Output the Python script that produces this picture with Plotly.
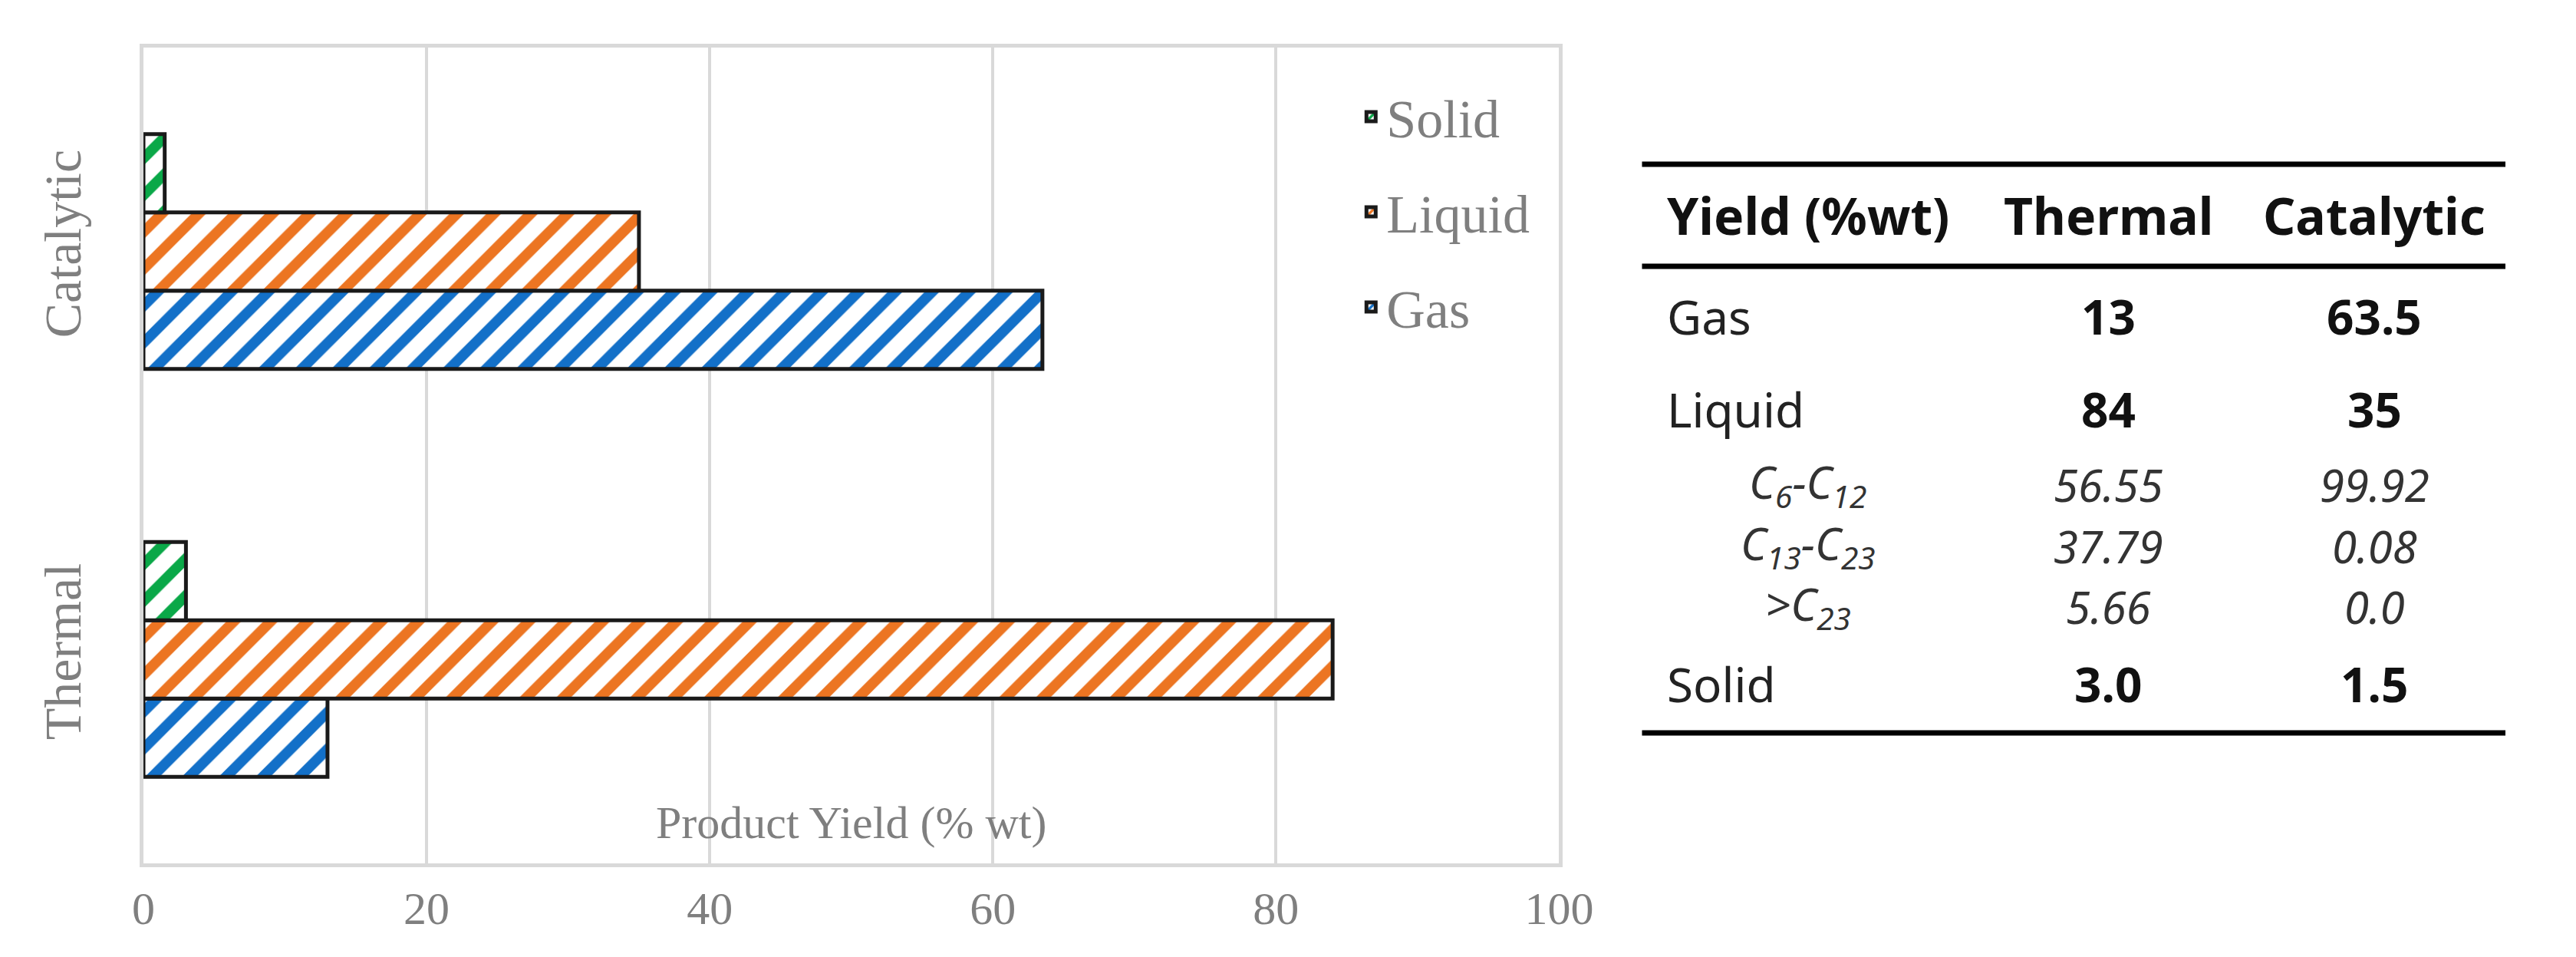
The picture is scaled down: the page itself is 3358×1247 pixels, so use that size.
import plotly.graph_objects as go

W, H = 3358, 1247

# bar chart data
methods = ["Thermal", "Catalytic"]
gas = [13, 63.5]
liquid = [84, 35]
solid = [3.0, 1.5]
x_ticks = [0, 20, 40, 60, 80, 100]

# table data
table_header = ["Yield (%wt)", "Thermal", "Catalytic"]
main_rows = ["Gas", "Liquid", "Solid"]
main_thermal = ["13", "84", "3.0"]
main_catalytic = ["63.5", "35", "1.5"]
sub_rows = ["C<sub>6</sub>-C<sub>12</sub>", "C<sub>13</sub>-C<sub>23</sub>", "&gt;C<sub>23</sub>"]
sub_thermal = ["56.55", "37.79", "5.66"]
sub_catalytic = ["99.92", "0.08", "0.0"]

colors = {"Gas": "#1370C8", "Liquid": "#EC7522", "Solid": "#0AA848"}
GRAY = "#7f7f7f"
SERIF = "Liberation Serif"
SANS = "Noto Sans"


def px(x):
    return x / W


def py(y):
    return 1 - y / H


fig = go.Figure()

# Gas first so it sits at the bottom of each group; legend shows Solid on top
for rank, (name, vals) in zip([3, 2, 1], [("Gas", gas), ("Liquid", liquid), ("Solid", solid)]):
    fig.add_trace(go.Bar(
        y=methods, x=vals, name=name, orientation="h",
        legendgroup=name, legendrank=rank,
        marker=dict(
            color="white",
            line=dict(color="#1a1a1a", width=5),
            pattern=dict(shape="/", fgcolor=colors[name], bgcolor="white",
                         fgopacity=1, fillmode="replace",
                         size=34, solidity=0.4),
        ),
    ))

annotations = []


def note(text, x, y, size, color, xanchor="center", weight="normal", family=SANS):
    annotations.append(dict(
        x=px(x), y=py(y), xref="paper", yref="paper",
        xanchor=xanchor, yanchor="middle", text=text, showarrow=False,
        font=dict(family=family, size=size, color=color, weight=weight),
    ))


# axis title sits inside the plot area
annotations.append(dict(
    x=50, xref="x", y=py(1064), yref="paper", yanchor="middle",
    text="Product Yield (% wt)", showarrow=False,
    font=dict(family=SERIF, size=60, color=GRAY),
))

# table
col_x = [2187, 2775, 3128]
note(table_header[0], col_x[0], 272, 66, "#111111", xanchor="left", weight="bold")
note(table_header[1], col_x[1], 272, 66, "#111111", weight="bold")
note(table_header[2], col_x[2], 272, 66, "#111111", weight="bold")

main_y = [404, 525, 883]
for lab, t, c, yy in zip(main_rows, main_thermal, main_catalytic, main_y):
    note(lab, col_x[0], yy, 62, "#222222", xanchor="left")
    note(t, col_x[1], yy, 62, "#111111", weight="bold")
    note(c, col_x[2], yy, 62, "#111111", weight="bold")

sub_y = [623, 703, 782]
for lab, t, c, yy in zip(sub_rows, sub_thermal, sub_catalytic, sub_y):
    note("<i>" + lab + "</i>", 2376, yy, 58, "#333333")
    note("<i>" + t + "</i>", col_x[1], yy, 58, "#333333")
    note("<i>" + c + "</i>", col_x[2], yy, 58, "#333333")

shapes = []
for yy in (206, 339, 947):
    shapes.append(dict(
        type="line", xref="paper", yref="paper",
        x0=px(2156), x1=px(3302), y0=py(yy), y1=py(yy),
        line=dict(color="black", width=7),
    ))

fig.update_layout(
    width=W, height=H,
    margin=dict(l=0, r=0, t=0, b=0),
    paper_bgcolor="white", plot_bgcolor="white",
    barmode="group", bargap=0.424, bargroupgap=0,
    showlegend=True,
    legend=dict(
        x=px(1776), y=py(92), xanchor="left", yanchor="top",
        traceorder="grouped", tracegroupgap=30,
        bgcolor="rgba(0,0,0,0)",
        font=dict(family=SERIF, size=70, color=GRAY),
    ),
    xaxis=dict(
        domain=[px(167), px(2046)], range=[0, 100], tickvals=x_ticks,
        showgrid=True, gridcolor="#d9d9d9", gridwidth=4,
        showline=True, mirror=True, linecolor="#d9d9d9", linewidth=5,
        zeroline=False, ticks="", ticklabelstandoff=2,
        tickfont=dict(family=SERIF, size=60, color=GRAY),
    ),
    yaxis=dict(
        domain=[py(1117), py(54)],
        showgrid=False, showline=True, mirror=True,
        linecolor="#d9d9d9", linewidth=5,
        ticks="", tickangle=-90, ticklabelstandoff=50,
        tickfont=dict(family=SERIF, size=68, color=GRAY),
    ),
    annotations=annotations,
    shapes=shapes,
)

fig.write_html("out.html")
